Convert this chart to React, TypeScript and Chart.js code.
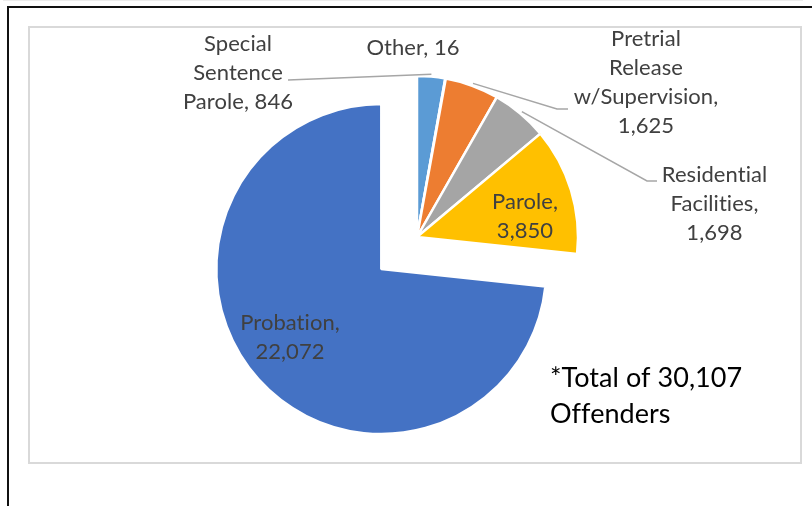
import React, { useEffect, useRef } from 'react';
import { Chart, registerables } from 'chart.js';

Chart.register(...registerables);

// ---------- data ----------
const categories = [
  'Special Sentence Parole',
  'Other',
  'Pretrial Release w/Supervision',
  'Residential Facilities',
  'Parole',
  'Probation',
];
const offenders = [846, 16, 1625, 1698, 3850, 22072];
const noteUnit = 'Offenders';

// ---------- style / layout ----------
const sliceColors = ['#5B9BD5', '#70AD47', '#ED7D31', '#A5A5A5', '#FFC000', '#4472C4'];
const W = 812;
const H = 506;
const CENTER_X = 417;
const CENTER_Y = 237;
const RADIUS = 161;
const explodePx = [0, 0, 0, 0, 0, 48];
const extraRadius = [0, 0, 0, 0, 0, 4];
const LABEL_FONT = '22px Lato';
const NOTE_FONT = '27px Lato';
const LABEL_COLOR = '#404040';
const LEADER_COLOR = '#a6a6a6';
const LEADER_GAP = 2.5;
const LINE_H = 29;

type Lay = { x: number; y: number; breaks: number[]; leader?: number[][] };
const labelLayout: Lay[] = [
  { x: 238, y: 51, breaks: [1, 1, 2], leader: [[288, 80]] },
  { x: 413, y: 55, breaks: [2] },
  { x: 646, y: 45.5, breaks: [1, 1, 1, 1], leader: [[557, 109], [568, 109]] },
  { x: 714.5, y: 181.5, breaks: [1, 1, 1], leader: [[647, 181], [657, 181]] },
  { x: 525, y: 208.5, breaks: [1, 1] },
  { x: 290, y: 330, breaks: [1, 1] },
];
const notePos = { x: 550, y: 386.5, lineH: 36.6 };

const fmt = (v: number) => v.toLocaleString('en-US');

function labelLines(i: number): string[] {
  const words = `${categories[i]}, ${fmt(offenders[i])}`.split(' ');
  const out: string[] = [];
  let k = 0;
  for (const n of labelLayout[i].breaks) {
    out.push(words.slice(k, k + n).join(' '));
    k += n;
  }
  return out;
}

const explodePlugin = {
  id: 'explodeSlices',
  afterDatasetUpdate(chart: any, args: any) {
    const meta = args.meta || chart.getDatasetMeta(args.index);
    meta.data.forEach((arc: any, i: number) => {
      const d = explodePx[i] || 0;
      const mid = (arc.startAngle + arc.endAngle) / 2;
      arc.x += Math.cos(mid) * d;
      arc.y += Math.sin(mid) * d;
      arc.outerRadius += extraRadius[i] || 0;
    });
  },
};

const labelPlugin = {
  id: 'sliceLabels',
  afterDatasetsDraw(chart: any) {
    const ctx: any = chart.ctx;
    const arcs = chart.getDatasetMeta(0).data;
    ctx.save();
    ctx.strokeStyle = LEADER_COLOR;
    ctx.lineWidth = 1.5;
    labelLayout.forEach((lay, i) => {
      if (!lay.leader) return;
      const arc: any = arcs[i];
      const mid = (arc.startAngle + arc.endAngle) / 2;
      const r = arc.outerRadius + LEADER_GAP;
      ctx.beginPath();
      ctx.moveTo(arc.x + Math.cos(mid) * r, arc.y + Math.sin(mid) * r);
      lay.leader.forEach(([x, y]) => ctx.lineTo(x, y));
      ctx.stroke();
    });

    // tiny letter spacing disables the font's "ti" ligature
    if ('letterSpacing' in ctx) ctx.letterSpacing = '0.05px';
    ctx.font = LABEL_FONT;
    ctx.fillStyle = LABEL_COLOR;
    ctx.textAlign = 'center';
    ctx.textBaseline = 'alphabetic';
    labelLayout.forEach((lay, i) => {
      labelLines(i).forEach((line, j) => {
        ctx.fillText(line, lay.x, lay.y + j * LINE_H);
      });
    });

    const total = offenders.reduce((a, b) => a + b, 0);
    ctx.font = NOTE_FONT;
    ctx.fillStyle = '#000000';
    ctx.textAlign = 'left';
    ctx.fillText(`*Total of ${fmt(total)}`, notePos.x, notePos.y);
    ctx.fillText(noteUnit, notePos.x, notePos.y + notePos.lineH);
    ctx.restore();
  },
};

export default function App() {
  const ref = useRef<HTMLCanvasElement>(null);
  useEffect(() => {
    const canvas = ref.current;
    if (!canvas) return;
    const chart = new Chart(canvas, {
      type: 'pie',
      data: {
        labels: categories,
        datasets: [
          {
            data: offenders,
            backgroundColor: sliceColors,
            borderColor: '#ffffff',
            borderWidth: 2.5,
            radius: RADIUS,
          } as any,
        ],
      },
      options: {
        responsive: false,
        animation: false,
        events: [],
        layout: {
          padding: { left: 2 * CENTER_X - W, right: 0, top: 0, bottom: H - 2 * CENTER_Y },
        },
        plugins: {
          legend: { display: false },
          tooltip: { enabled: false },
        },
      },
      plugins: [explodePlugin, labelPlugin],
    });
    return () => chart.destroy();
  }, []);

  return (
    <div style={{ position: 'absolute', left: 0, top: 0, width: W, height: H, background: '#fff', overflow: 'hidden' }}>
      <div style={{ position: 'absolute', left: 3, top: 0, width: 800, height: 1, background: '#ececec' }} />
      <div style={{ position: 'absolute', left: 7, top: 6, width: W - 7, height: 2, background: '#111' }} />
      <div style={{ position: 'absolute', left: 7, top: 6, width: 2, height: H - 6, background: '#111' }} />
      <div
        style={{
          position: 'absolute',
          left: 28,
          top: 26,
          width: 774,
          height: 438,
          boxSizing: 'border-box',
          border: '2px solid #d9d9d9',
        }}
      />
      <canvas ref={ref} width={W} height={H} style={{ position: 'absolute', left: 0, top: 0, width: W, height: H }} />
    </div>
  );
}
